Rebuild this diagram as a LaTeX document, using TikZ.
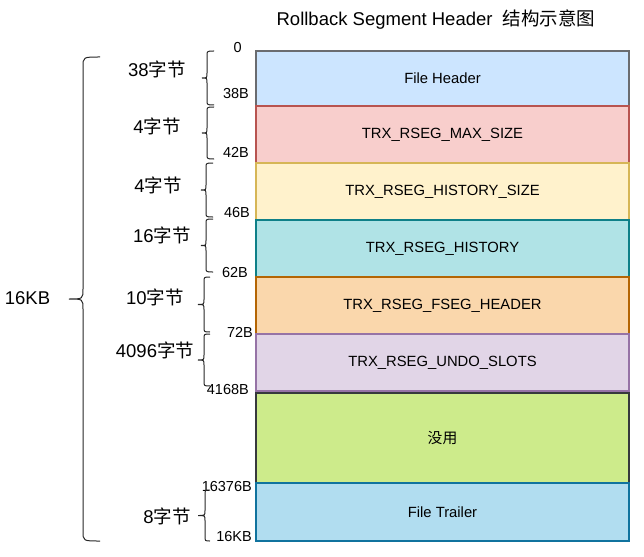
\documentclass[tikz,border=0pt]{standalone}
\usepackage{fontspec}
\setmainfont{Liberation Sans}
\newfontfamily\cjk{Noto Sans CJK SC}
\definecolor{fhF}{HTML}{CCE5FF}\definecolor{fhD}{HTML}{6A6C70}
\definecolor{msF}{HTML}{F8CECC}\definecolor{msD}{HTML}{B85450}
\definecolor{hsF}{HTML}{FFF2CC}\definecolor{hsD}{HTML}{D6B656}
\definecolor{hiF}{HTML}{B0E3E6}\definecolor{hiD}{HTML}{0E8088}
\definecolor{fsF}{HTML}{FAD7AC}\definecolor{fsD}{HTML}{B46504}
\definecolor{usF}{HTML}{E1D5E7}\definecolor{usD}{HTML}{9673A6}
\definecolor{nuF}{HTML}{CDEB8B}\definecolor{nuD}{HTML}{36393D}
\definecolor{ftF}{HTML}{B1DDF0}\definecolor{ftD}{HTML}{10739E}
\newcommand\drawbrc[6]{% hook x, line x, tip x, top y, bottom y, radius
  \draw[brc] (#1,#4) .. controls (#2,#4) .. (#2,{#4+#6})
    -- (#2,{(#4+#5)/2-#6}) .. controls (#2,{(#4+#5)/2}) .. (#3,{(#4+#5)/2})
    .. controls (#2,{(#4+#5)/2}) .. (#2,{(#4+#5)/2+#6})
    -- (#2,{#5-#6}) .. controls (#2,#5) .. (#1,#5);}
\begin{document}
\begin{tikzpicture}[x=1pt,y=-1pt,
  box/.style={draw, line width=1.2pt, minimum width=373pt, inner sep=0pt, outer sep=0pt,
    font=\fontsize{14.8}{17}\selectfont},
  off/.style={anchor=east, inner sep=0pt, font=\fontsize{14.5}{17}\selectfont},
  sz/.style={inner sep=0pt, font=\fontsize{18.5}{22}\selectfont},
  brc/.style={line width=1pt, color=black!85}]
\useasboundingbox (0,0) rectangle (644,556);

% title
\node[sz] (title) at (436,20) {Rollback Segment Header\ \ {\cjk 结构示意图}};

% boxes
\node[box, fill=fhF, draw=fhD, minimum height=55pt] (fh) at (442.5,78.5) {File Header};
\node[box, fill=msF, draw=msD, minimum height=57pt] (ms) at (442.5,134.5) {TRX\_RSEG\_MAX\_SIZE};
\node[box, fill=hsF, draw=hsD, minimum height=57pt] (hs) at (442.5,191.5) {TRX\_RSEG\_HISTORY\_SIZE};
\node[box, fill=hiF, draw=hiD, minimum height=57pt] (hi) at (442.5,248.5) {TRX\_RSEG\_HISTORY};
\node[box, fill=fsF, draw=fsD, minimum height=57pt] (fs) at (442.5,305.5) {TRX\_RSEG\_FSEG\_HEADER};
\node[box, fill=usF, draw=usD, minimum height=57pt] (us) at (442.5,362.5) {TRX\_RSEG\_UNDO\_SLOTS};
\node[box, fill=nuF, draw=nuD, minimum height=90pt] (nu) at (442.5,438) {\cjk 没用};
\node[box, fill=ftF, draw=ftD, minimum height=58pt] (ft) at (442.5,512) {File Trailer};

% offsets
\node[off] (o0) at (242,47.5) {0};
\node[off] (o1) at (249,93.5) {38B};
\node[off] (o2) at (249,152.5) {42B};
\node[off] (o3) at (250,212.5) {46B};
\node[off] (o4) at (248,273) {62B};
\node[off] (o5) at (253,332) {72B};
\node[off] (o6) at (249,389.5) {4168B};
\node[off] (o7) at (252,487) {16376B};
\node[off] (o8) at (252,536.5) {16KB};

% sizes
\node[sz] (s1) at (157,69) {38{\cjk 字节}};
\node[sz] (s2) at (157,126) {4{\cjk 字节}};
\node[sz] (s3) at (158,185) {4{\cjk 字节}};
\node[sz] (s4) at (162,235) {16{\cjk 字节}};
\node[sz] (s5) at (155,297) {10{\cjk 字节}};
\node[sz] (s6) at (155,350) {4096{\cjk 字节}};
\node[sz] (s7) at (167,516) {8{\cjk 字节}};
\node[sz] (total) at (27.5,298) {16KB};

% braces
\drawbrc{214}{207}{202}{51}{105}{5}
\drawbrc{214}{207}{202}{107}{159}{5}
\drawbrc{213}{206}{201}{163}{217}{5}
\drawbrc{213}{206}{201}{219}{272}{5}
\drawbrc{210}{204}{198}{277}{332}{5}
\drawbrc{210}{204}{198}{334}{386}{5}
\drawbrc{210}{205}{198}{490}{541}{5}
\drawbrc{100}{83}{69}{57}{541}{10}
\end{tikzpicture}
\end{document}
